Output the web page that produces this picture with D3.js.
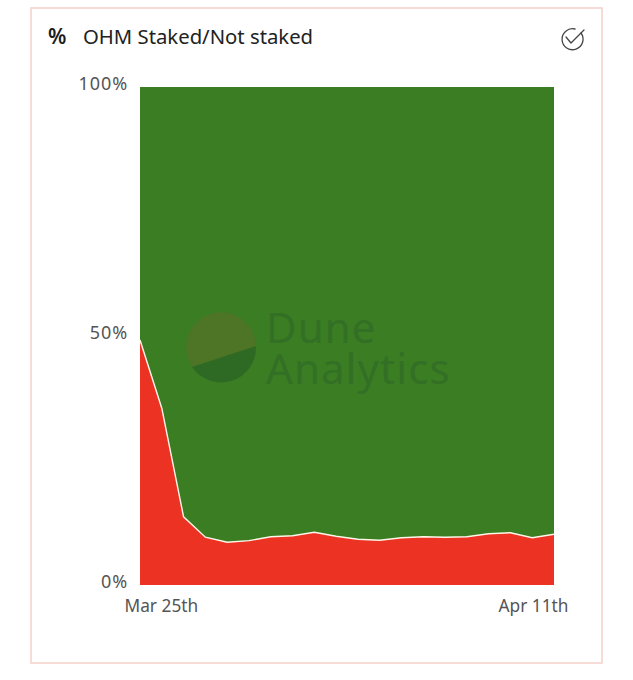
<!DOCTYPE html>
<html>
<head>
<meta charset="utf-8">
<script src="https://cdn.jsdelivr.net/npm/d3@7"></script>
<style>
    html, body { margin: 0; padding: 0; background: #fff; }
    text { font-family: "Noto Sans", sans-serif; }
</style>
</head>
<body>
<div id="chart"></div>
<script>
const dayIndex = [0, 1, 2, 3, 4, 5, 6, 7, 8, 9, 10, 11, 12, 13, 14, 15, 16, 17, 18, 19];
const notStaked = [49.2, 35.5, 13.7, 9.6, 8.6, 8.9, 9.7, 9.9, 10.6, 9.8, 9.2, 9.0, 9.5, 9.7, 9.6, 9.7, 10.3, 10.5, 9.5, 10.2];
const staked = [50.8, 64.5, 86.3, 90.4, 91.4, 91.1, 90.3, 90.1, 89.4, 90.2, 90.8, 91.0, 90.5, 90.3, 90.4, 90.3, 89.7, 89.5, 90.5, 89.8];
const yTicks = [0, 50, 100];
const xTicks = [0, 19];
const xTickLabels = ['Mar 25th', 'Apr 11th'];

const width = 633;
const height = 680;
const margin = { top: 87, right: 79, bottom: 95, left: 140 };

const svg = d3.select('#chart').append('svg')
    .attr('width', width)
    .attr('height', height)
    .style('display', 'block');

// card frame
svg.append('rect')
    .attr('x', 31)
    .attr('y', 8)
    .attr('width', 571)
    .attr('height', 655)
    .attr('fill', '#fff')
    .attr('stroke', '#f5cfc9')
    .attr('stroke-width', 1.5);

svg.append('text')
    .attr('x', 48)
    .attr('y', 44)
    .attr('font-size', 21)
    .attr('font-weight', 600)
    .attr('fill', '#1c1c1c')
    .text('%');

svg.append('text')
    .attr('x', 83)
    .attr('y', 44)
    .attr('font-size', 20.3)
    .attr('fill', '#222')
    .text('OHM Staked/Not staked');

// check icon, top right
const icon = svg.append('g')
    .attr('fill', 'none')
    .attr('stroke', '#444')
    .attr('stroke-width', 1.3)
    .attr('stroke-linecap', 'round')
    .attr('stroke-linejoin', 'round');
icon.append('path').attr('d', 'M581 33 A10.5 10.5 0 1 1 575 29');
icon.append('path').attr('d', 'M566 37 L571 43 L584 30');

const x = d3.scaleLinear()
    .domain(d3.extent(dayIndex))
    .range([margin.left, width - margin.right]);

const y = d3.scaleLinear()
    .domain([0, 100])
    .range([height - margin.bottom, margin.top]);

const rows = dayIndex.map((d, i) => ({ day: d, notStaked: notStaked[i], staked: staked[i] }));
const series = d3.stack().keys(['notStaked', 'staked'])(rows);
const colors = { notStaked: '#ec3323', staked: '#3a7d23' };

const area = d3.area()
    .x(d => x(d.data.day))
    .y0(d => y(d[0]))
    .y1(d => y(d[1]));

svg.selectAll('.layer')
    .data(series)
    .join('path')
    .attr('class', 'layer')
    .attr('fill', d => colors[d.key])
    .attr('d', area);

// white separator on the top of the red band
svg.append('path')
    .datum(series[0])
    .attr('fill', 'none')
    .attr('stroke', '#fff6ea')
    .attr('stroke-width', 1.4)
    .attr('d', d3.line().x(d => x(d.data.day)).y(d => y(d[1])));

// watermark
const mark = svg.append('g');
mark.append('path')
    .attr('d', 'M256 346 A35 35 0 1 0 192 367 Z')
    .attr('fill', '#6b6a28')
    .attr('opacity', 0.4);
mark.append('path')
    .attr('d', 'M256 346 A35 35 0 0 1 192 367 Z')
    .attr('fill', '#2f6a25');
mark.selectAll('text')
    .data(['Dune', 'Analytics'])
    .join('text')
    .attr('x', 266)
    .attr('y', (d, i) => 343 + i * 41)
    .attr('font-size', 42)
    .attr('letter-spacing', 1.1)
    .attr('fill', '#336f25')
    .text(d => d);

// axes
const yAxis = svg.append('g')
    .attr('transform', `translate(${margin.left},0)`)
    .call(d3.axisLeft(y).tickValues(yTicks).tickFormat(d => d + '%').tickSize(0).tickPadding(12));
yAxis.select('.domain').remove();
yAxis.selectAll('text')
    .attr('dy', '0.12em')
    .style('font-family', '"Noto Sans", sans-serif')
    .attr('font-size', 18)
    .attr('letter-spacing', 0.9)
    .attr('fill', '#555');

const xAxis = svg.append('g')
    .attr('transform', `translate(0,${height - margin.bottom})`)
    .call(d3.axisBottom(x).tickValues(xTicks).tickFormat((d, i) => xTickLabels[i]).tickSize(0).tickPadding(15));
xAxis.select('.domain').remove();
xAxis.selectAll('text')
    .attr('text-anchor', (d, i) => i === 0 ? 'start' : 'end')
    .attr('dx', (d, i) => i === 0 ? -16 : 14)
    .style('font-family', '"Noto Sans", sans-serif')
    .attr('font-size', 17.3)
    .attr('fill', '#555');
</script>
</body>
</html>
